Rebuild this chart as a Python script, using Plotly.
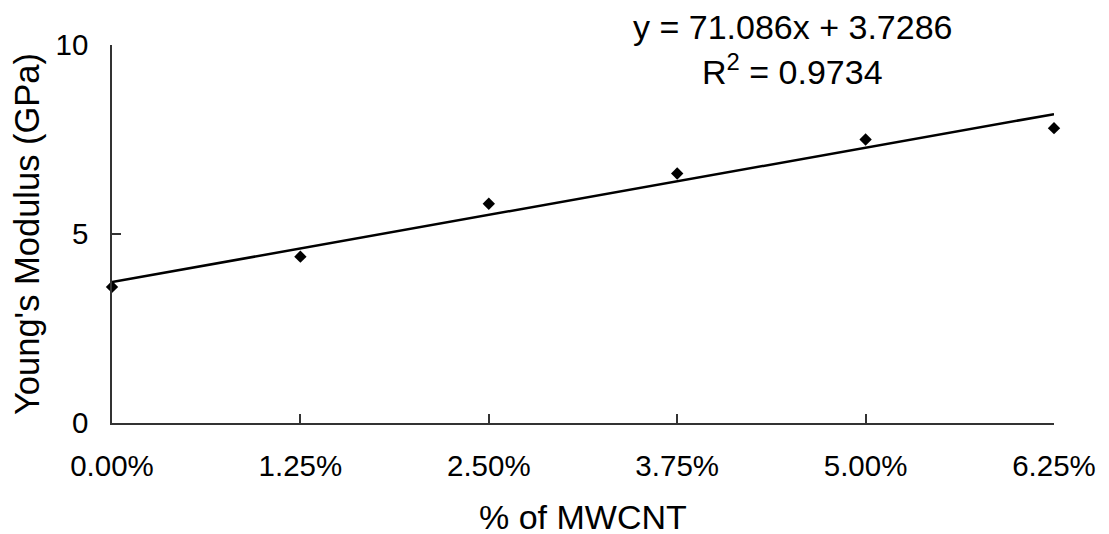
import plotly.graph_objects as go

# Data
mwcnt_frac = [0.0, 0.0125, 0.025, 0.0375, 0.05, 0.0625]
youngs_modulus = [3.6, 4.4, 5.8, 6.6, 7.5, 7.8]
trend_slope = 71.086
trend_intercept = 3.7286
r_squared = 0.9734
x_tick_vals = [0.0, 0.0125, 0.025, 0.0375, 0.05, 0.0625]
x_tick_text = ["0.00%", "1.25%", "2.50%", "3.75%", "5.00%", "6.25%"]
y_tick_vals = [0, 5, 10]
x_title = "% of MWCNT"
y_title = "Young's Modulus (GPa)"

trend_x = [mwcnt_frac[0], mwcnt_frac[-1]]
trend_y = [trend_slope * v + trend_intercept for v in trend_x]

FONT = "Liberation Sans, Arial, sans-serif"

fig = go.Figure()
fig.add_trace(go.Scatter(
    x=trend_x, y=trend_y, mode="lines",
    line=dict(color="black", width=2.5),
    showlegend=False, hoverinfo="skip", cliponaxis=False,
))
fig.add_trace(go.Scatter(
    x=mwcnt_frac, y=youngs_modulus, mode="markers",
    marker=dict(symbol="diamond", size=9.5, color="black"),
    showlegend=False, cliponaxis=False,
))

# page has an 8px body margin, so the figure is sized to fit the remaining window
fig.update_layout(
    width=1101, height=526,
    margin=dict(l=104, r=55, t=37, b=111, autoexpand=False),
    paper_bgcolor="white", plot_bgcolor="white",
    font=dict(family=FONT, color="black", size=29),
    xaxis=dict(
        range=[0, 0.0625], tickvals=x_tick_vals, ticktext=x_tick_text,
        showgrid=False, zeroline=False, showline=True, automargin=False,
        linecolor="#333333", linewidth=1.5,
        ticks="inside", ticklen=9, tickcolor="#333333", tickwidth=1.5,
        tickfont=dict(size=29.5, family=FONT, color="black"),
        ticklabelstandoff=16,
    ),
    yaxis=dict(
        range=[0, 10], tickvals=y_tick_vals,
        showgrid=False, zeroline=False, showline=True, automargin=False,
        linecolor="#333333", linewidth=1.5,
        ticks="inside", ticklen=9, tickcolor="#333333", tickwidth=1.5,
        tickfont=dict(size=29.5, family=FONT, color="black"),
        ticklabelstandoff=16,
        title=dict(text=y_title, font=dict(size=34.5, family=FONT, color="black"), standoff=11),
    ),
    annotations=[
        dict(text=f"y = {trend_slope}x + {trend_intercept}", xref="paper", yref="paper",
             x=0.722, y=1.047, xanchor="center", yanchor="middle", showarrow=False,
             borderpad=0,
             font=dict(size=34, family=FONT, color="black")),
        dict(text=f"R<sup>2</sup> = {r_squared}", xref="paper", yref="paper",
             x=0.722, y=0.935, xanchor="center", yanchor="middle", showarrow=False,
             borderpad=0,
             font=dict(size=34, family=FONT, color="black")),
        dict(text=x_title, xref="paper", yref="paper",
             x=0.5, y=-0.249, xanchor="center", yanchor="middle", showarrow=False,
             borderpad=0,
             font=dict(size=34, family=FONT, color="black")),
    ],
)

fig.write_html("out.html")
